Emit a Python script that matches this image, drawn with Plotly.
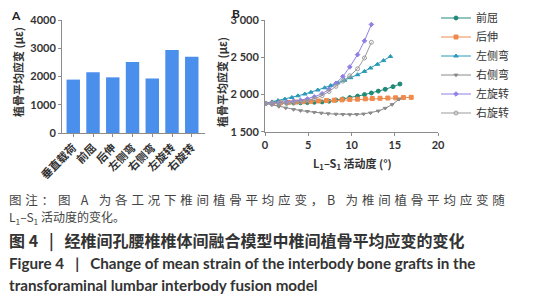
import plotly.graph_objects as go

W, H = 536, 300

# ---------- Panel A data ----------
cond_labels = ["垂直载荷", "前屈", "后伸", "左侧弯", "右侧弯", "左旋转", "右旋转"]
cond_strain = [1890, 2150, 1970, 2510, 1930, 2940, 2700]
a_ticks = [0, 1000, 2000, 3000, 4000]

# ---------- Panel B data ----------
flex_x = [0, 0.8, 1.6, 2.5, 3.3, 4.1, 4.9, 5.7, 6.6, 7.4, 8.2, 9.0, 9.8, 10.7, 11.5, 12.3, 13.1, 13.9, 14.8, 15.6]
flex_y = [1880, 1880, 1881, 1883, 1885, 1888, 1891, 1895, 1900, 1910, 1925, 1940, 1958, 1978, 1998, 2020, 2045, 2070, 2105, 2140]

ext_x = [0, 0.9, 1.8, 2.7, 3.6, 4.4, 5.3, 6.2, 7.1, 8.0, 8.9, 9.8, 10.7, 11.6, 12.4, 13.3, 14.2, 15.1, 16.0, 16.9]
ext_y = [1880, 1884, 1888, 1893, 1898, 1903, 1908, 1913, 1918, 1923, 1928, 1933, 1937, 1941, 1945, 1949, 1952, 1955, 1958, 1961]

lb_x = [0, 0.8, 1.5, 2.3, 3.1, 3.8, 4.6, 5.3, 6.1, 6.9, 7.6, 8.4, 9.2, 9.9, 10.7, 11.5, 12.2, 13.0, 13.7, 14.5]
lb_y = [1880, 1900, 1918, 1938, 1960, 1982, 2006, 2030, 2060, 2090, 2120, 2155, 2190, 2225, 2265, 2310, 2355, 2405, 2455, 2510]

rb_x = [0, 0.8, 1.6, 2.4, 3.3, 4.1, 4.9, 5.7, 6.5, 7.3, 8.2, 9.0, 9.8, 10.6, 11.4, 12.2, 13.1, 13.9, 14.7, 15.5]
rb_y = [1880, 1860, 1838, 1818, 1798, 1783, 1772, 1760, 1750, 1742, 1736, 1732, 1730, 1732, 1738, 1752, 1778, 1815, 1865, 1935]

lr_x = [0, 0.8, 1.6, 2.5, 3.3, 4.1, 4.9, 5.7, 6.6, 7.4, 8.2, 9.0, 9.8, 10.7, 11.5, 12.3]
lr_y = [1880, 1885, 1892, 1900, 1910, 1922, 1940, 1968, 2010, 2070, 2150, 2240, 2370, 2535, 2720, 2940]

rr_x = [0, 0.8, 1.6, 2.5, 3.3, 4.1, 4.9, 5.7, 6.6, 7.4, 8.2, 9.0, 9.8, 10.7, 11.5, 12.3]
rr_y = [1880, 1880, 1882, 1886, 1892, 1900, 1915, 1942, 1985, 2040, 2110, 2180, 2250, 2345, 2490, 2700]

b_yticks = [1500, 2000, 2500, 3000]
b_yticktext = ["1 500", "2 000", "2 500", "3 000"]
b_xticks = [0, 5, 10, 15, 20]

series = [
    ("前屈", flex_x, flex_y, "#1f8a78", "circle", 4),
    ("后伸", ext_x, ext_y, "#ef8a4c", "square", 4),
    ("左侧弯", lb_x, lb_y, "#2a9ab8", "triangle-up", 4),
    ("右侧弯", rb_x, rb_y, "#8a8a8a", "triangle-down", 3.5),
    ("左旋转", lr_x, lr_y, "#8f80e6", "diamond", 3.5),
    ("右旋转", rr_x, rr_y, "#9a9a9a", "circle-open", 4),
]

CJK = "Noto Sans CJK SC"
LAT = "Lato, 'Open Sans', sans-serif"

fig = go.Figure()

fig.add_trace(go.Bar(
    x=cond_labels, y=cond_strain, marker=dict(color="#4a8fec", line=dict(width=0)),
    xaxis="x", yaxis="y", showlegend=False, width=0.68,
))

for name, xs, ys, col, sym, sz in series:
    fig.add_trace(go.Scatter(
        x=xs, y=ys, mode="lines+markers", name=name,
        line=dict(color=col, width=1),
        marker=dict(color=col, symbol=sym, size=sz,
                    line=dict(color=col, width=1)),
        xaxis="x2", yaxis="y2",
    ))

def px2x(p):
    return p / W

def py2y(p):
    return 1 - p / H

axis_common = dict(
    showgrid=False, zeroline=False, showline=True, linecolor="#8c8c8c", linewidth=1,
    ticks="outside", ticklen=3, tickcolor="#8c8c8c", automargin=False,
)

fig.update_layout(
    width=W, height=H, margin=dict(l=0, r=0, t=0, b=0, autoexpand=False),
    paper_bgcolor="white", plot_bgcolor="white",
    bargap=0.32,
    xaxis=dict(**axis_common, domain=[px2x(62), px2x(205)], range=[-0.57, 6.67],
               tickangle=-45, tickfont=dict(family=CJK, size=11, color="#333", weight="bold"),
               anchor="y"),
    yaxis=dict(**axis_common, domain=[py2y(133), py2y(20)], range=[0, 4000],
               tickvals=a_ticks, tickfont=dict(family=LAT, size=11, color="#333", weight="bold"),
               anchor="x"),
    xaxis2=dict(**axis_common, domain=[px2x(265), px2x(438)], range=[0, 20],
                tickvals=b_xticks, tickfont=dict(family=LAT, size=11, color="#333", weight="bold"),
                anchor="y2"),
    yaxis2=dict(**axis_common, domain=[py2y(131.7), py2y(20)], range=[1500, 3000],
                tickvals=b_yticks, ticktext=b_yticktext,
                tickfont=dict(family=LAT, size=11, color="#333", weight="bold"),
                anchor="x2"),
    legend=dict(x=px2x(436), y=py2y(3.5), xanchor="left", yanchor="top",
                font=dict(family=CJK, size=11, color="#333"), itemwidth=30,
                tracegroupgap=0, bgcolor="rgba(0,0,0,0)"),
    showlegend=True,
)

ann = []
ann.append(dict(text="<b>A</b>", x=px2x(16), y=py2y(15), font=dict(family=LAT, size=12, color="#222")))
ann.append(dict(text="<b>B</b>", x=px2x(236), y=py2y(14), font=dict(family=LAT, size=12, color="#222")))
ann.append(dict(text="<b>植骨平均应变 (με)</b>", x=px2x(18), y=py2y(72), textangle=-90,
                font=dict(family=CJK, size=11, color="#333")))
ann.append(dict(text="<b>植骨平均应变 (με)</b>", x=px2x(222), y=py2y(82), textangle=-90,
                font=dict(family=CJK, size=11, color="#333")))
ann.append(dict(text="<b>L<sub>1</sub>–S<sub>1</sub> 活动度 (°)</b>", x=px2x(352), y=py2y(163),
                font=dict(family=CJK, size=11, color="#333")))

NB = "\u00a0"
caption = [
    ('<span style="letter-spacing:3.8px">图注：图 A 为各工况下椎间植骨平均应变，B 为椎间植骨平均应变随</span>',
     199, "#444", False, 12.5, CJK),
    ("L<sub>1</sub>–S<sub>1</sub> 活动度的变化。", 217, "#444", False, 12, CJK),
    (f"图{NB}4{NB}{NB}{NB}|{NB}{NB}{NB}经椎间孔腰椎椎体间融合模型中椎间植骨平均应变的变化", 240, "#333", True, 16, CJK),
    (f"Figure{NB}4{NB}{NB}{NB}|{NB}{NB}{NB}Change of mean strain of the interbody bone grafts in the",
     263, "#333", True, 15.2, LAT),
    ("transforaminal lumbar interbody fusion model", 285, "#333", True, 15.2, LAT),
]
for txt, yy, col, bold, size, fam in caption:
    ann.append(dict(text=(f"<b>{txt}</b>" if bold else txt), x=px2x(7), y=py2y(yy),
                    xanchor="left", font=dict(family=fam, size=size, color=col)))

for a in ann:
    a.setdefault("xanchor", "center")
    a.update(xref="paper", yref="paper", yanchor="middle", showarrow=False)
fig.update_layout(annotations=ann)

fig.write_html("out.html", config={"displayModeBar": False},
               post_script="document.body.style.margin='0';")
